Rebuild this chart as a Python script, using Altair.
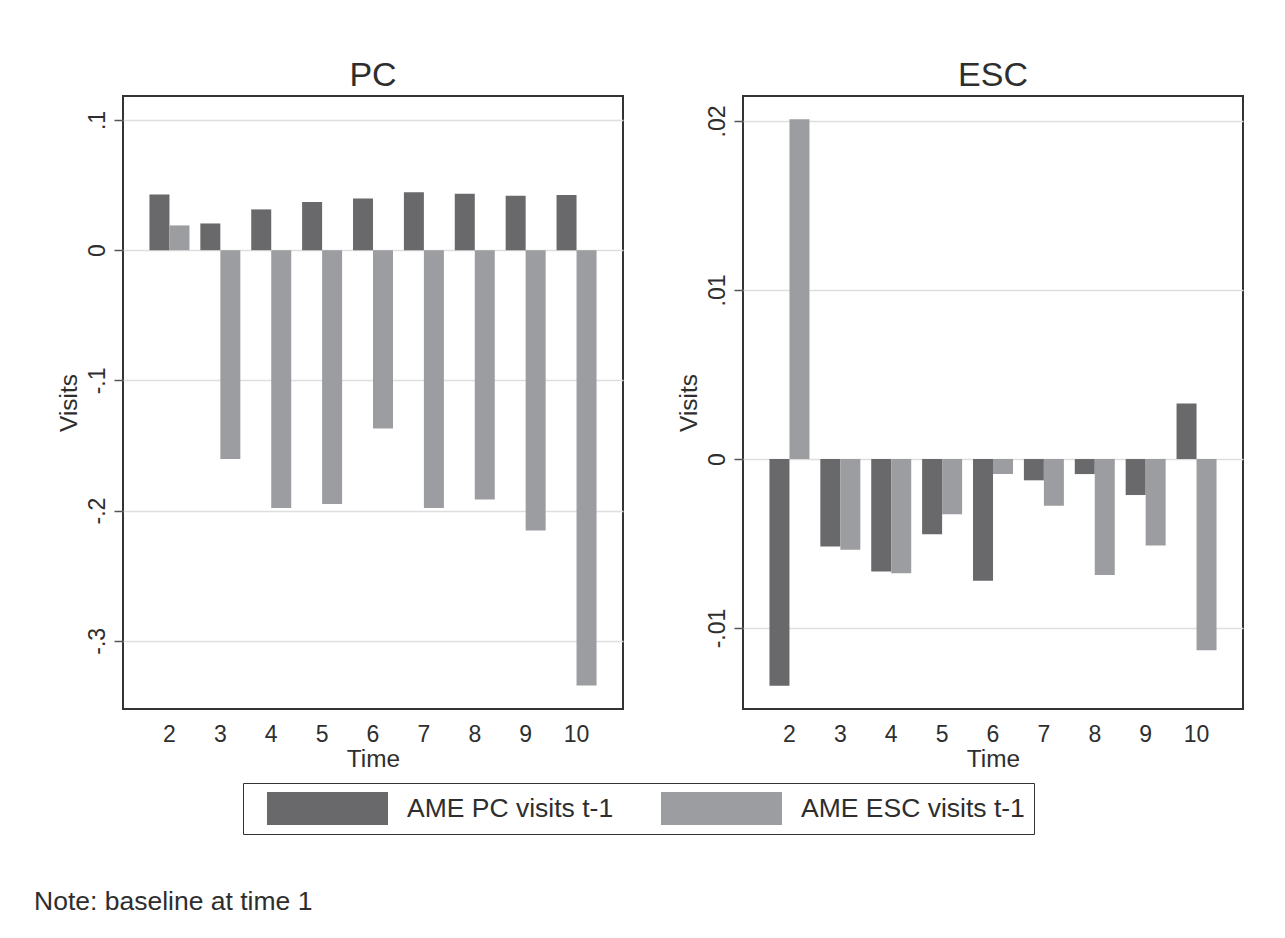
import altair as alt
import pandas as pd

times = [2, 3, 4, 5, 6, 7, 8, 9, 10]
series_names = ["AME PC visits t-1", "AME ESC visits t-1"]
panel_names = ["PC", "ESC"]

# PC panel
pc_pc = [0.0428, 0.0205, 0.0313, 0.0369, 0.0397, 0.0444, 0.0433, 0.0418, 0.0423]
pc_esc = [0.0190, -0.1603, -0.1980, -0.1950, -0.1370, -0.1980, -0.1915, -0.2154, -0.3344]
# ESC panel
esc_pc = [-0.01342, -0.00518, -0.00666, -0.00445, -0.00720, -0.00126, -0.00089, -0.00213, 0.00329]
esc_esc = [0.0201, -0.00537, -0.00676, -0.00326, -0.00089, -0.00277, -0.00686, -0.00512, -0.01131]

pc_ticks = [0.1, 0, -0.1, -0.2, -0.3]
esc_ticks = [0.02, 0.01, 0, -0.01]
pc_domain = [-0.3524, 0.1184]
esc_domain = [-0.01479, 0.02148]

DARK = "#69696b"
LIGHT = "#9c9da0"
TXT = "#2e2e2e"
FONT = "Liberation Sans"


def make_df(a, b):
    rows = []
    for t, v in zip(times, a):
        rows.append({"time": t, "series": series_names[0], "value": v})
    for t, v in zip(times, b):
        rows.append({"time": t, "series": series_names[1], "value": v})
    return pd.DataFrame(rows)


label_expr = "(datum.value < 0 ? '-' : '') + replace(format(abs(datum.value), '~g'), '0.', '.')"


def panel(df, title, ticks, domain):
    return alt.Chart(df).mark_bar().encode(
        x=alt.X(
            "time:O",
            title="Time",
            scale=alt.Scale(paddingInner=0.214, paddingOuter=0.52),
            axis=alt.Axis(labelAngle=0, ticks=False, tickSize=0, domain=False,
                          labelPadding=14, titlePadding=1, grid=False),
        ),
        xOffset=alt.XOffset("series:N", sort=series_names,
                            scale=alt.Scale(paddingInner=0, paddingOuter=0)),
        y=alt.Y(
            "value:Q",
            title="Visits",
            scale=alt.Scale(domain=domain, nice=False),
            axis=alt.Axis(values=ticks, labelExpr=label_expr, labelAngle=270,
                          labelAlign="center", labelBaseline="alphabetic",
                          tickSize=9, labelPadding=10, grid=True, domain=False,
                          titlePadding=5),
        ),
        color=alt.Color(
            "series:N",
            sort=series_names,
            scale=alt.Scale(domain=series_names, range=[DARK, LIGHT]),
            legend=alt.Legend(
                title=None,
                orient="none",
                legendX=120,
                legendY=687,
                direction="horizontal",
                symbolType="M-3.667,-1H3.667V1H-3.667Z",
                symbolSize=1089,
                symbolOffset=59,
                symbolStrokeWidth=0,
                symbolOpacity=1,
                labelOffset=63,
                labelFontSize=26.5,
                labelFont=FONT,
                labelColor=TXT,
                columnPadding=32,
                strokeColor="#333333",
                padding=9,
                labelLimit=400,
            ),
        ),
    ).properties(width=500, height=613, title=title)


pc = panel(make_df(pc_pc, pc_esc), panel_names[0], pc_ticks, pc_domain)
esc = panel(make_df(esc_pc, esc_esc), panel_names[1], esc_ticks, esc_domain)

chart = alt.hconcat(pc, esc, spacing=51).resolve_scale(
    y="independent"
).properties(
    title=alt.TitleParams(
        "Note: baseline at time 1",
        orient="bottom",
        anchor="start",
        fontSize=26.5,
        fontWeight="normal",
        font=FONT,
        color=TXT,
        dx=-21,
        offset=54,
    ),
    padding={"left": 26, "top": 50, "right": 10, "bottom": 10},
    background="white",
).configure_view(
    stroke="#333333", strokeWidth=2
).configure_axis(
    labelFont=FONT, titleFont=FONT, labelFontSize=23, titleFontSize=24.4,
    labelColor=TXT, titleColor=TXT, titleFontWeight="normal",
    gridColor="#dedede", gridWidth=1.5, tickColor="#555555", tickWidth=1.5,
).configure_title(
    font=FONT, fontSize=34, fontWeight="normal", color=TXT, offset=3
)

chart.save("out.html", embed_options={"renderer": "svg", "actions": False})
